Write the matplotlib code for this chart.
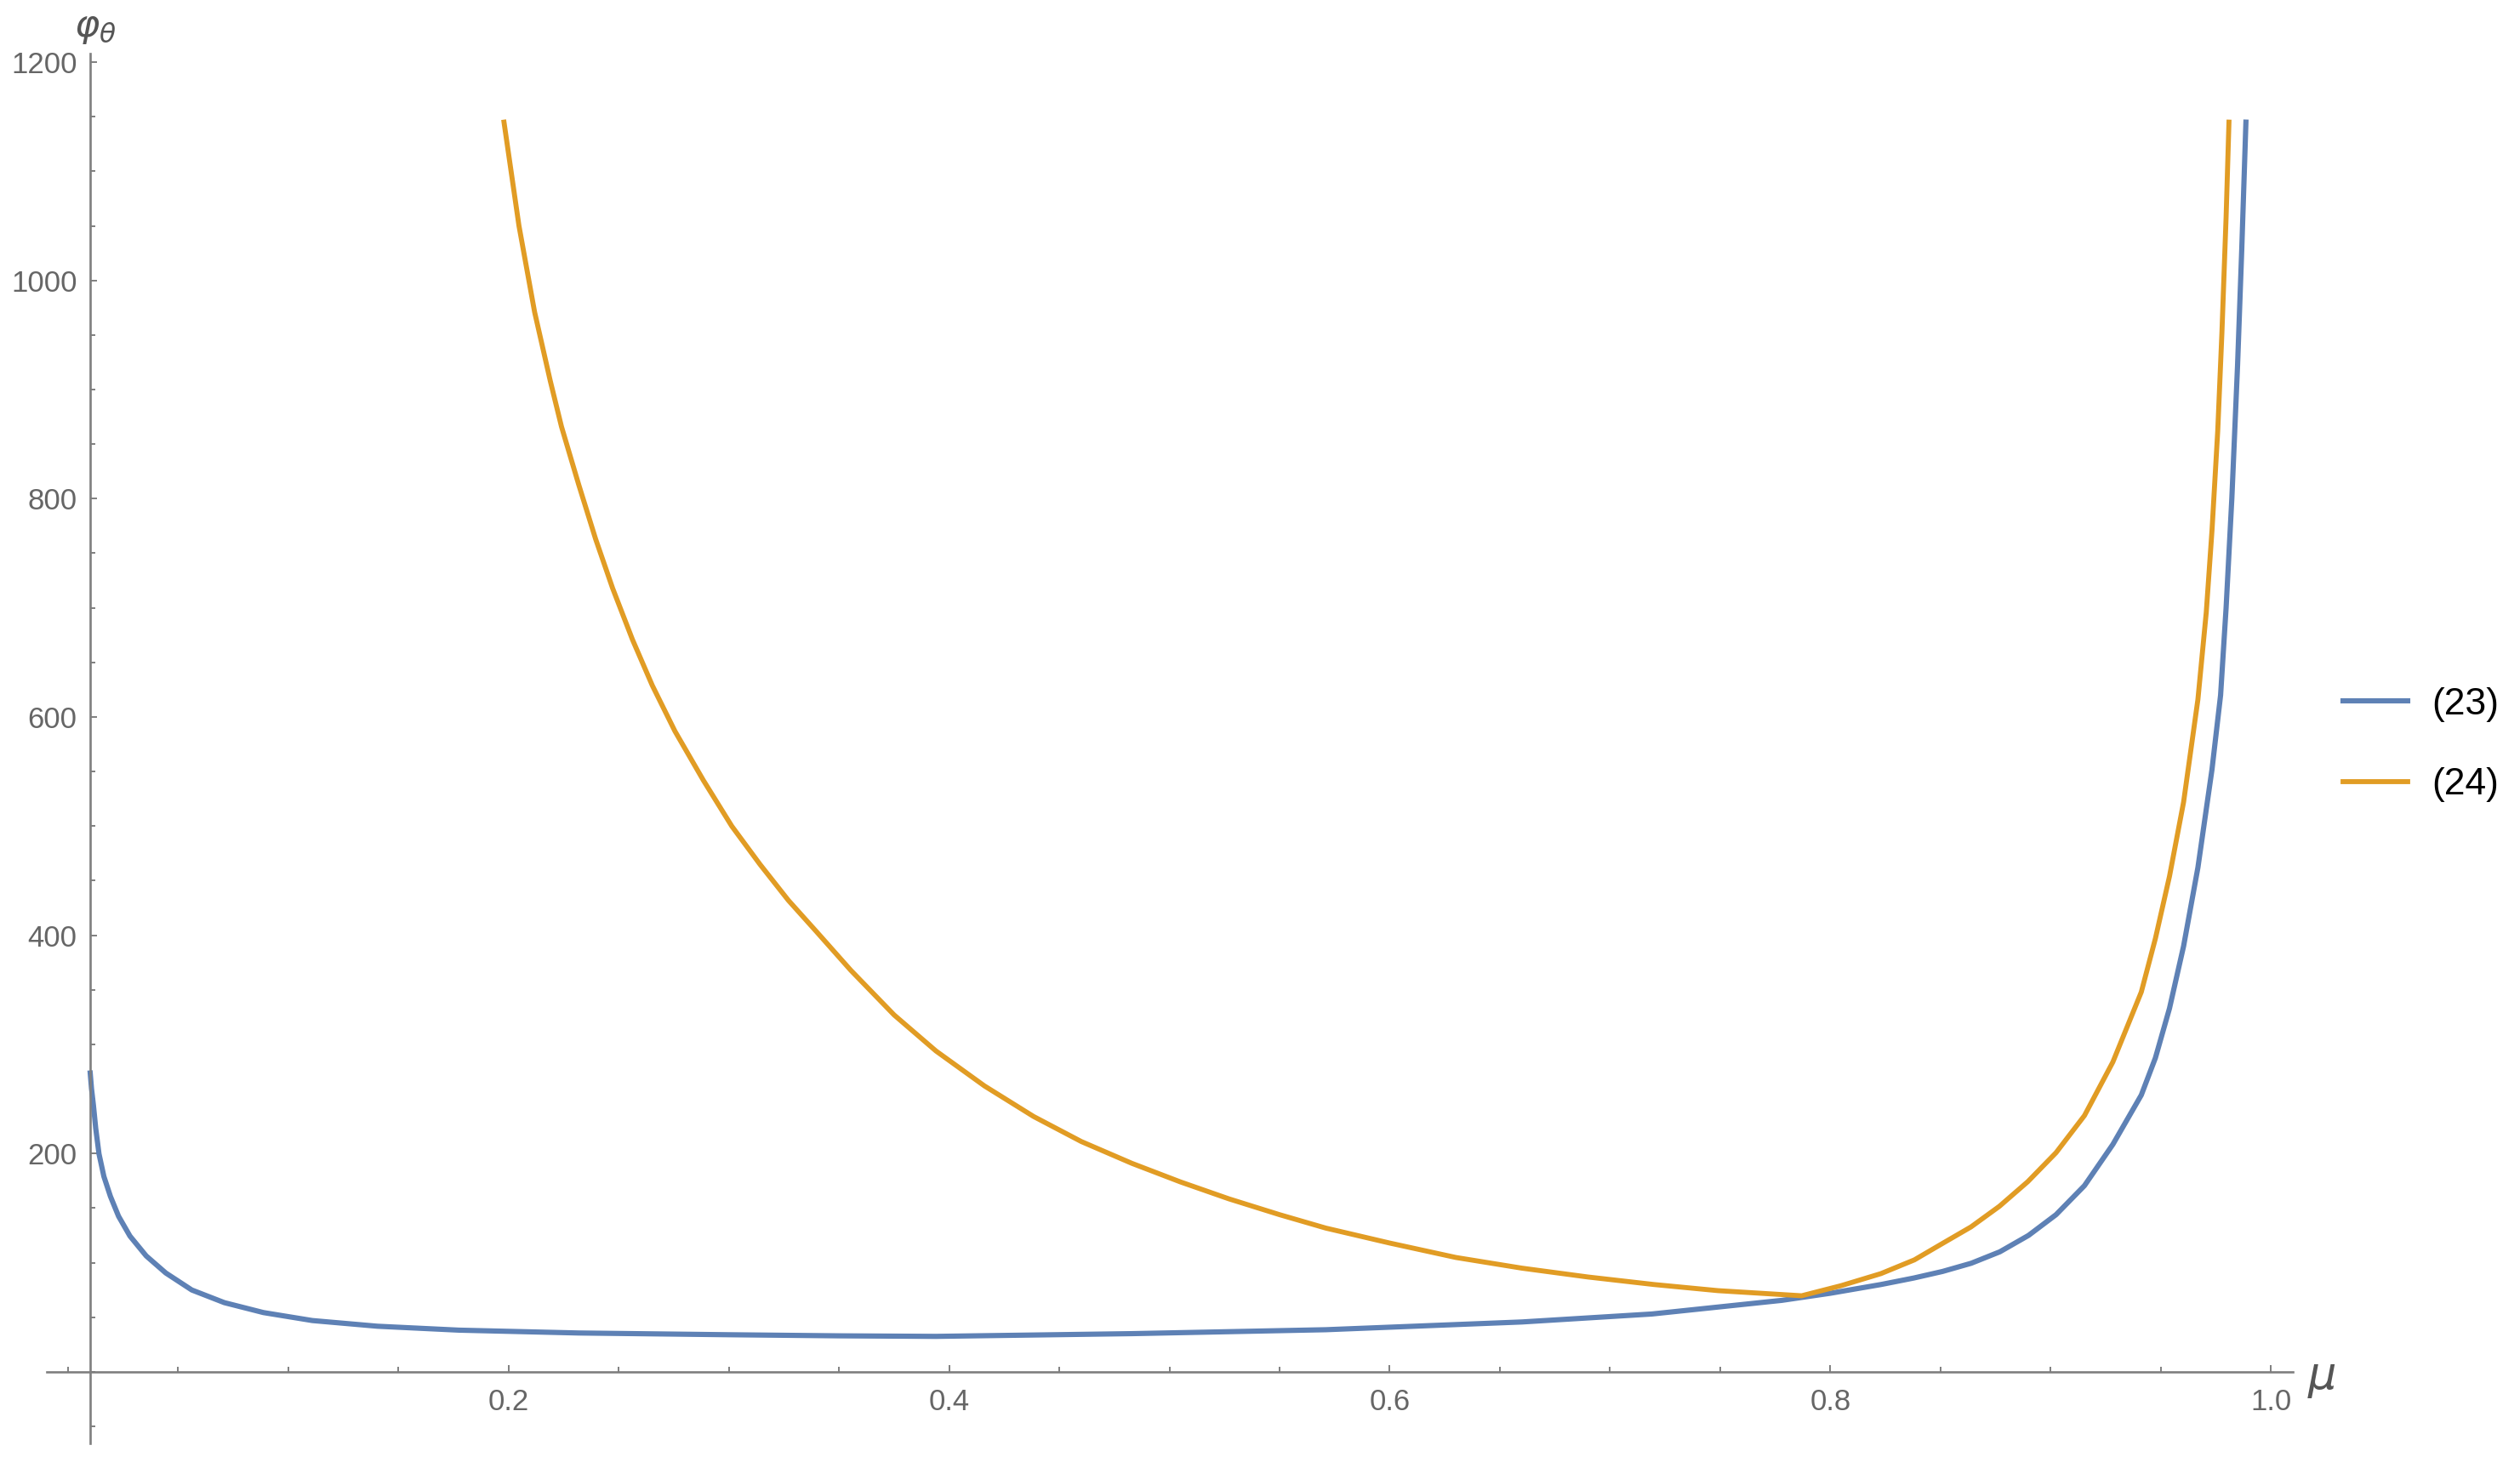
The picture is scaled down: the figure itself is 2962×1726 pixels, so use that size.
import matplotlib
matplotlib.use('Agg')
import matplotlib.pyplot as plt
from matplotlib.ticker import FixedLocator, MultipleLocator

# -------------------------------------------------------------------------------------------------------------------- #
# Data
# -------------------------------------------------------------------------------------------------------------------- #

mu_23 = [0.01005, 0.01064, 0.01153, 0.01256, 0.01404, 0.01626, 0.01922, 0.02291, 0.02809, 0.03548,
         0.04435, 0.05617, 0.07095, 0.0887, 0.1109, 0.1404, 0.1774, 0.2318, 0.300, 0.350,
         0.394, 0.483, 0.571, 0.660, 0.719, 0.778, 0.800, 0.823, 0.838, 0.851,
         0.864, 0.877, 0.890, 0.9025, 0.9154, 0.9283, 0.9412, 0.9476, 0.954, 0.9604,
         0.9669, 0.9733, 0.9772, 0.9797, 0.9823, 0.9849, 0.9868, 0.9887]
phi_23 = [273.8, 259.5, 243.9, 223, 199.7, 179, 160.8, 142.6, 124.4, 106.2,
          90.6, 75, 63.4, 54.3, 47, 41.8, 38.2, 35.6, 34, 33,
          32.5, 35, 38.6, 45.7, 53, 65.5, 72, 80, 86, 92,
          99.5, 110, 125, 144, 170.6, 208.4, 253.6, 287.6, 333, 390,
          462, 552, 620, 700, 800, 922, 1028, 1145]

mu_24 = [0.1979, 0.2047, 0.2118, 0.2189, 0.2240, 0.2318, 0.2395, 0.2472, 0.2562, 0.2652,
         0.2755, 0.2884, 0.3013, 0.3141, 0.3270, 0.3399, 0.3553, 0.375, 0.394, 0.416,
         0.4383, 0.460, 0.483, 0.505, 0.527, 0.550, 0.571, 0.600, 0.630, 0.660,
         0.690, 0.720, 0.749, 0.787, 0.805, 0.823, 0.8382, 0.8510, 0.8639, 0.8768,
         0.8897, 0.9025, 0.9154, 0.9283, 0.9412, 0.9476, 0.9540, 0.9604, 0.9669, 0.9707,
         0.9733, 0.9759, 0.9778, 0.9797, 0.9810]
phi_24 = [1145, 1050, 971, 908, 866, 813, 763, 718, 671, 629,
          587, 542, 500, 465, 432, 403, 368, 327, 294, 262,
          234, 211, 191, 174, 158.5, 144, 131.7, 118, 104.8, 95,
          86.9, 80, 74.4, 69.7, 79, 90, 102.6, 117.7, 132.8, 151.7,
          174.3, 200.8, 234.8, 283.9, 348, 397, 454, 522, 616, 696,
          771, 862, 952, 1058, 1145]

series_labels = ['(23)', '(24)']

x_major = [0.2, 0.4, 0.6, 0.8, 1.0]
x_major_labels = ['0.2', '0.4', '0.6', '0.8', '1.0']
y_major = [200, 400, 600, 800, 1000, 1200]
y_major_labels = ['200', '400', '600', '800', '1000', '1200']

# -------------------------------------------------------------------------------------------------------------------- #
# Style
# -------------------------------------------------------------------------------------------------------------------- #

blue = '#5e81b5'
orange = '#e19c24'
axis_grey = '#7f7f7f'
label_grey = '#666666'

W, H = 2962, 1726
plt.rcParams['font.family'] = ['Liberation Sans', 'DejaVu Sans']

fig = plt.figure(figsize=(W / 100, H / 100), dpi=100)
ax = fig.add_axes([55 / W, 29 / H, 2640 / W, 1634 / H])

ax.plot(mu_23, phi_23, color=blue, lw=4.4, label=series_labels[0],
        solid_joinstyle='round')
ax.plot(mu_24, phi_24, color=orange, lw=4.2, label=series_labels[1],
        solid_joinstyle='round')

ax.set_xlim(-0.00966, 1.0100)
ax.set_ylim(-65.5, 1207.8)

# Mathematica-style crossing axes
for s in ['top', 'right']:
    ax.spines[s].set_visible(False)
ax.spines['left'].set_position(('data', 0.01))
ax.spines['bottom'].set_position(('data', 0))
for s in ['left', 'bottom']:
    ax.spines[s].set_color(axis_grey)
    ax.spines[s].set_linewidth(1.9)

ax.xaxis.set_major_locator(FixedLocator(x_major))
ax.set_xticklabels(x_major_labels)
ax.xaxis.set_minor_locator(MultipleLocator(0.05))
ax.yaxis.set_major_locator(FixedLocator(y_major))
ax.set_yticklabels(y_major_labels)
ax.yaxis.set_minor_locator(MultipleLocator(50))

ax.tick_params(which='both', direction='in', color=axis_grey, width=1.4,
               labelsize=25, labelcolor=label_grey)
ax.tick_params(which='major', length=6)
ax.tick_params(which='minor', length=4)
ax.tick_params(axis='x', which='major', pad=14)
ax.tick_params(axis='y', which='major', pad=11)

# Axis labels
fig.text(87 / W, 1 - 43 / H, r'$\varphi_{\theta}$', fontsize=32, color='#555555',
         ha='left', va='baseline')
fig.text(2712 / W, 1 - 1633 / H, r'$\mu$', fontsize=38, color='#555555',
         ha='left', va='baseline')

ax.legend(loc='center left', bbox_to_anchor=(2754 / W, 1 - 875.5 / H),
          bbox_transform=fig.transFigure, frameon=False, fontsize=32,
          handlelength=1.71, handletextpad=0.63, labelspacing=1.2,
          borderpad=0, borderaxespad=0)

fig.savefig('out.png', dpi=100)
